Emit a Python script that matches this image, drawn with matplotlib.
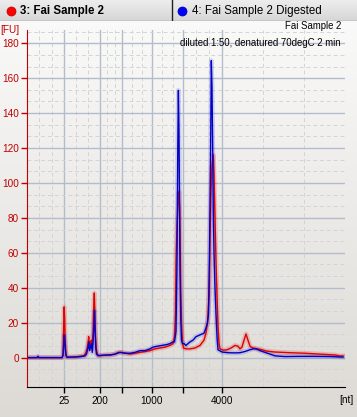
import numpy as np
import matplotlib
matplotlib.use("Agg")
import matplotlib.pyplot as plt

plt.rcParams['font.family'] = ['Liberation Sans', 'DejaVu Sans']

# migration time [s] and fluorescence [FU]
red_t = [13.5, 19.33, 19.5, 19.62, 19.7, 19.78, 19.87, 20.0, 20.17, 21.5, 22.33, 23.0,
         23.33, 23.5, 23.67, 23.78, 23.88, 24.0, 24.12, 24.22, 24.33, 24.5, 24.63, 24.72,
         24.8, 24.92, 25.05, 25.17, 25.33, 25.67, 26.5, 27.33, 28.17, 28.67, 29.33, 30.0,
         30.67, 31.5, 32.33, 33.17, 34.0, 34.83, 35.67, 36.5, 37.33, 37.83, 38.08, 38.25,
         38.33, 38.5, 38.72, 38.83, 38.95, 39.05, 39.13, 39.25, 39.42, 39.58, 40.0, 40.67,
         41.5, 42.33, 43.0, 43.33, 43.58, 43.75, 43.88, 44.0, 44.17, 44.33, 44.55, 44.67,
         44.83, 45.0, 45.17, 45.33, 45.5, 45.67, 46.17, 46.83, 47.5, 48.17, 48.67,
         49.0, 49.33, 49.67, 50.0, 50.33, 50.67, 51.17, 52.0, 52.67, 53.33, 54.83, 57.33,
         59.83, 62.33, 64.83, 65.67, 66.17]
red_fu = [0, 0, 2, 20, 29, 22, 10, 2, 0.3, 0.3, 0.8, 1,
          3, 5, 8, 12, 7, 9, 6, 10, 5, 14, 30, 37,
          28, 12, 5, 3, 1.5, 1, 1.5, 1.5, 2, 3, 3, 2.5,
          2, 2.5, 3, 3.5, 4, 5, 5.5, 6, 7, 8, 12, 25,
          54, 75, 90, 95, 85, 60, 40, 20, 9, 5.5, 5, 5,
          5.5, 7, 10, 14, 20, 30, 37, 69, 95, 110, 116, 105,
          80, 55, 35, 18, 8, 5, 4.3, 4.5, 5.5, 7, 6.5,
          5, 6, 10, 13.5, 10, 6.5, 5.5, 5, 4.5, 3.8, 3.2, 2.8,
          2.5, 2, 1.5, 0.9, 1]

blue_t = [13.5, 15.17, 15.33, 15.5, 19.33, 19.5, 19.63, 19.72, 19.8, 19.88, 20.0, 20.17,
          22.33, 23.17, 23.42, 23.67, 23.78, 23.92, 24.08, 24.25, 24.38, 24.5, 24.67, 24.75,
          24.83, 24.95, 25.08, 25.33, 25.67, 27.33, 28.17, 29.0, 29.83, 30.67, 31.5, 32.33,
          33.17, 34.0, 34.5, 35.17, 36.0, 36.83, 37.33, 37.83, 38.08, 38.33, 38.5, 38.63,
          38.73, 38.83, 38.92, 39.0, 39.13, 39.25, 39.42, 39.67, 40.0, 40.33, 40.67, 41.17,
          41.67, 42.33, 43.0, 43.33, 43.58, 43.75, 43.92, 44.08, 44.22, 44.33, 44.45, 44.55,
          44.67, 44.83, 45.0, 45.17, 45.33, 46.0, 47.0, 48.17, 49.0, 49.83, 50.67, 51.17,
          51.67, 52.33, 53.17, 54.0, 54.83, 56.5, 59.0, 61.5, 64.0, 66.17]
blue_fu = [0, 0, 0.8, 0, 0, 1, 8, 13, 10, 5, 1, 0.2,
           0.5, 1, 2, 6, 9, 4, 6, 8, 3, 8, 20, 27,
           18, 6, 2, 1, 1.3, 1.5, 2, 3, 2.5, 2.5, 3, 4,
           4, 5, 6, 6.5, 7, 7.5, 8, 9, 9, 15, 55, 120,
           153, 130, 90, 50, 22, 10, 8, 8, 7, 8, 9, 10,
           12, 13, 14, 17, 20, 25, 60, 110, 170, 155, 120, 83,
           60, 40, 25, 12, 4.5, 3.2, 2.8, 2.7, 2.8, 3.5, 4.5, 5,
           5, 4, 3, 2, 1, 0.6, 0.7, 0.7, 0.6, 0.3]

# ladder positions on the time axis and their size labels
tick_t = [19.67, 25.67, 29.33, 34.33, 39.5, 46.0]
tick_lab = ['25', '200', '', '1000', '', '4000']
y_ticks = list(range(0, 181, 20))

RED = '#e00000'
BLUE = '#0000c8'
AX_RED = '#c00000'

fig = plt.figure(figsize=(3.57, 4.17), dpi=100)

# background gradient
bg = fig.add_axes([0, 0, 1, 1], zorder=-2)
grad = np.linspace(0, 1, 256).reshape(-1, 1)
top_c = np.array([0.985, 0.985, 0.985])
bot_c = np.array([0.865, 0.855, 0.835])
img = top_c + (bot_c - top_c) * grad[..., None]
bg.imshow(img, aspect='auto', extent=[0, 1, 0, 1])
bg.axis('off')

# tab bar
tab = fig.add_axes([0, 1 - 21 / 417, 1, 21 / 417])
tgrad = np.linspace(0, 1, 32).reshape(-1, 1)
tc1 = np.array([0.93, 0.93, 0.93])
tc2 = np.array([0.84, 0.84, 0.84])
tab.imshow(tc1 + (tc2 - tc1) * tgrad[..., None], aspect='auto', extent=[0, 357, 0, 21])
tab.set_xlim(0, 357)
tab.set_ylim(0, 21)
tab.axis('off')
tab.axhline(0.4, color='#8a8a8a', lw=1)
tab.axvline(172.3, ymin=0.05, color='#202020', lw=1)
tab.plot([11], [10.5], 'o', color='#ff0000', ms=6.5, mec='#c00000', mew=0.5)
tab.plot([182], [10.5], 'o', color='#0000ff', ms=6.5, mec='#0000a0', mew=0.5)
tab.text(20, 10.3, '3: Fai Sample 2', fontsize=8.3, fontweight='bold', va='center', ha='left')
tab.text(192, 10.3, '4: Fai Sample 2 Digested', fontsize=8.3, va='center', ha='left')

# main plot
ax = fig.add_axes([27 / 357, (417 - 387.3) / 417, 318 / 357, 357.3 / 417])
ax.set_facecolor('none')
ax.set_xlim(13.5, 66.5)
ax.set_ylim(-17.0, 187.6)

edges = [13.5] + tick_t + [66.5]
minor_x = []
for a, b in zip(edges[:-1], edges[1:]):
    minor_x += [a + (b - a) / 3, a + 2 * (b - a) / 3]
minor_y = [v for v in np.arange(-20, 190, 20 / 3) if round(v, 3) % 20 != 0 and -17 < v < 187.6]

ax.set_xticks(tick_t)
ax.set_xticklabels(tick_lab)
ax.set_xticks(minor_x, minor=True)
ax.set_yticks(y_ticks)
ax.set_yticks(minor_y, minor=True)

ax.grid(which='major', color='#b4bccb', lw=1, ls='-')
ax.grid(which='minor', color='#d4d4d4', lw=0.7, ls=(0, (4, 3)))
ax.set_axisbelow(True)

for s in ['top', 'right']:
    ax.spines[s].set_visible(False)
ax.spines['left'].set_color(AX_RED)
ax.spines['bottom'].set_color('black')

ax.tick_params(axis='y', which='major', colors=AX_RED, labelcolor=AX_RED,
               length=4.3, width=1, labelsize=7.2, pad=1.5)
ax.tick_params(axis='x', which='major', colors='black', length=4.3, width=1,
               labelsize=7.2, pad=2)
ax.tick_params(which='minor', length=0)

# glow then traces
ax.plot(red_t, red_fu, color=RED, lw=3.5, alpha=0.18, solid_joinstyle='round')
ax.plot(blue_t, blue_fu, color=BLUE, lw=3.5, alpha=0.15, solid_joinstyle='round')
ax.plot(red_t, red_fu, color=RED, lw=1.0)
ax.plot(blue_t, blue_fu, color=BLUE, lw=1.0)

fig.text(0.0, 1 - 29.7 / 417, '[FU]', color=AX_RED, fontsize=7.2, va='center', ha='left')
fig.text(354 / 357, 1 - 400 / 417, '[nt]', color='black', fontsize=7.2, va='center', ha='right')
fig.text(341 / 357, 1 - 26 / 417, 'Fai Sample 2', fontsize=6.9, va='center', ha='right')
fig.text(341 / 357, 1 - 42.5 / 417, 'diluted 1:50, denatured 70degC 2 min', fontsize=6.9,
         va='center', ha='right')

fig.savefig('out.png', dpi=100)
